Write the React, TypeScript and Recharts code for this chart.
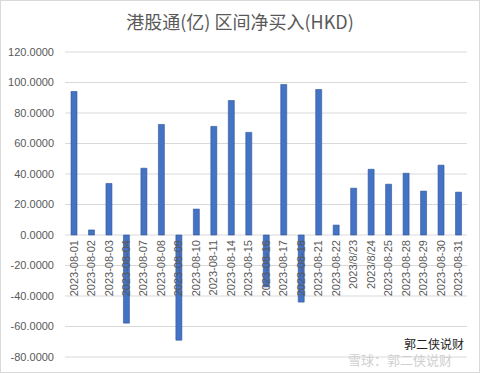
import React from 'react';
import { BarChart, Bar, XAxis, YAxis, CartesianGrid } from 'recharts';

const dates = [
  '2023-08-01', '2023-08-02', '2023-08-03', '2023-08-04', '2023-08-07', '2023-08-08',
  '2023-08-09', '2023-08-10', '2023-08-11', '2023-08-14', '2023-08-15', '2023-08-16',
  '2023-08-17', '2023-08-18', '2023-08-21', '2023-08-22', '2023/8/23', '2023/8/24',
  '2023-08-25', '2023-08-28', '2023-08-29', '2023-08-30', '2023-08-31',
];

const netBuy = [
  94.1, 3.3, 33.8, -57.8, 43.8, 72.5,
  -69.0, 17.0, 71.2, 88.2, 67.3, -34.0,
  98.7, -44.0, 95.4, 6.5, 30.7, 43.1,
  33.3, 40.5, 28.8, 45.8, 28.1,
];

const yTicks = [-80, -60, -40, -20, 0, 20, 40, 60, 80, 100, 120];

const data = dates.map((d, i) => ({ date: d, value: netBuy[i] }));

const W = 480;
const H = 373;
const X_AXIS_H = 2;
const M = { top: 52, right: 13, bottom: 14, left: 0 };
const Y_MIN = -80;
const Y_MAX = 120;
const plotH = H - M.top - M.bottom - X_AXIS_H;
const zeroY = M.top + (plotH * Y_MAX) / (Y_MAX - Y_MIN);

const textColor = '#595959';
const font = '"Liberation Sans", Arial, sans-serif';

const DateTick = (props: any) => {
  const { x, payload } = props;
  const ty = zeroY + 5;
  return (
    <text
      x={x}
      y={ty}
      transform={`rotate(-90, ${x}, ${ty})`}
      textAnchor="end"
      dy="0.35em"
      fill={textColor}
      fontSize={11}
      fontFamily={font}
    >
      {payload.value}
    </text>
  );
};

export default function App() {
  return (
    <div style={{ position: 'absolute', left: 0, top: 0, width: W, height: H, background: '#fff' }}>
      <BarChart width={W} height={H} data={data} margin={M}>
        <CartesianGrid vertical={false} stroke="#d9d9d9" />
        <YAxis
          width={65}
          domain={[Y_MIN, Y_MAX]}
          ticks={yTicks}
          axisLine={false}
          tickLine={false}
          tickMargin={5}
          tickFormatter={(v: number) => v.toFixed(4)}
          tick={{ fill: textColor, fontSize: 11, fontFamily: font }}
        />
        <Bar
          dataKey="value"
          barSize={6}
          fill="#4472C4"
          stroke="#2F5597"
          strokeWidth={0.6}
          isAnimationActive={false}
        />
        <XAxis
          dataKey="date"
          height={X_AXIS_H}
          axisLine={false}
          tickLine={false}
          interval={0}
          tick={(p: any) => <DateTick {...p} />}
        />
      </BarChart>
      <div
        style={{
          position: 'absolute', left: 0, top: 9, width: W, textAlign: 'center',
          fontFamily: '"Noto Sans CJK SC", sans-serif', fontSize: 18, color: textColor, lineHeight: '24px',
        }}
      >
        港股通(亿) 区间净买入(HKD)
      </div>
      <div
        style={{
          position: 'absolute', left: 348, top: 352, fontFamily: '"Noto Sans CJK SC", sans-serif',
          fontSize: 13, color: '#d0d0d0', lineHeight: '15px', whiteSpace: 'nowrap',
        }}
      >
        雪球：郭二侠说财
      </div>
      <div
        style={{
          position: 'absolute', left: 404, top: 337, fontFamily: '"Noto Sans CJK SC", sans-serif',
          fontSize: 12, color: '#222', lineHeight: '14px', whiteSpace: 'nowrap',
        }}
      >
        郭二侠说财
      </div>
      <div
        style={{
          position: 'absolute', left: 0, top: 0, width: W, height: H, boxSizing: 'border-box',
          border: '1px solid #d9d9d9', pointerEvents: 'none',
        }}
      />
    </div>
  );
}
